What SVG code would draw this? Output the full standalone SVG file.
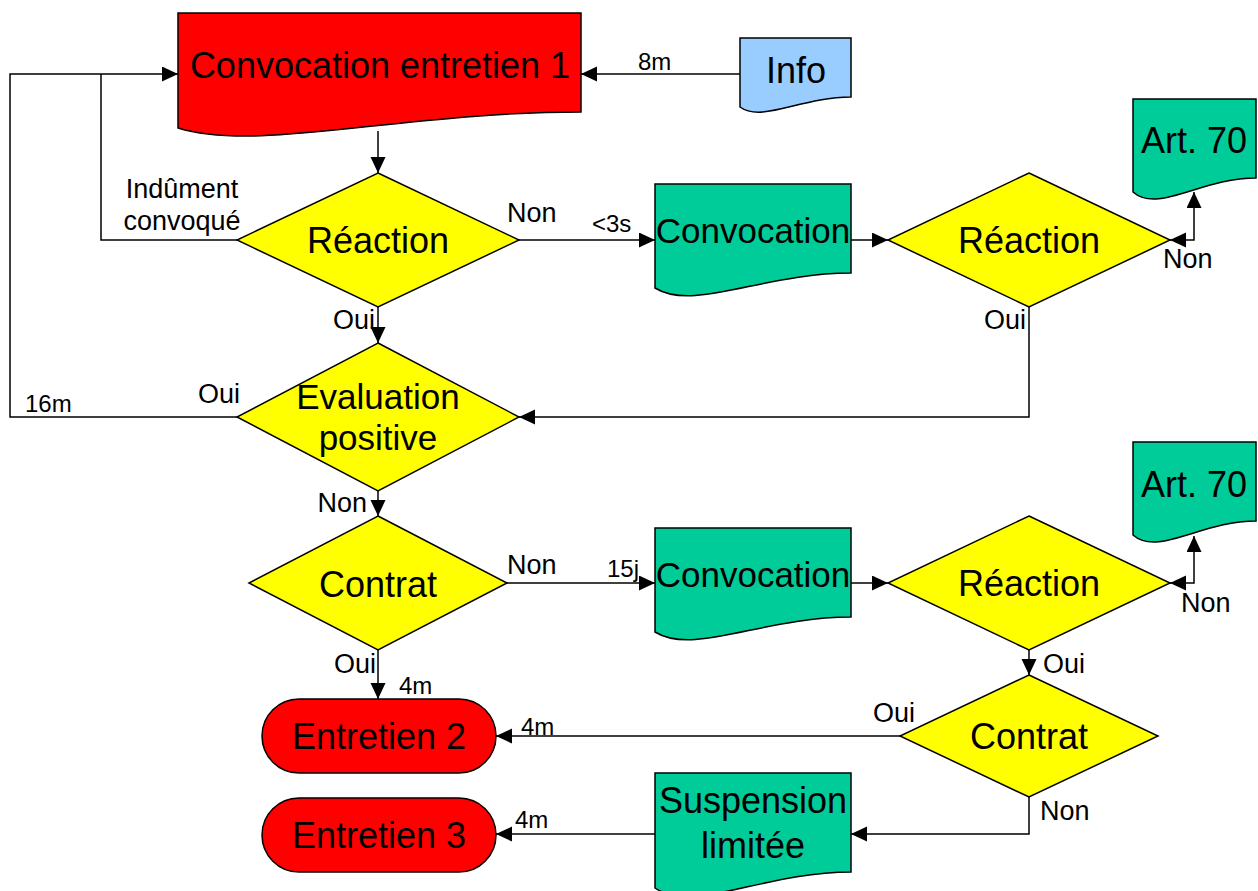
<svg xmlns="http://www.w3.org/2000/svg" width="1258" height="891" viewBox="0 0 1258 891">
<style>
text{font-family:"Liberation Sans",Arial,sans-serif;fill:#000}
.big{font-size:36px;text-anchor:middle}
.mid{font-size:35px;text-anchor:middle}
.lab{font-size:27px}
.sm{font-size:24px}
.red{fill:#FF0000;stroke:#000;stroke-width:1.5}
.blue{fill:#99CCFF;stroke:#000;stroke-width:1.5}
.green{fill:#00CC99;stroke:#000;stroke-width:1.5}
.yel{fill:#FFFF00;stroke:#000;stroke-width:1.5}
.c{fill:none;stroke:#000;stroke-width:1.5}
.a{marker-end:url(#ah)}
.b{marker-start:url(#ah);marker-end:url(#ah)}
</style>
<defs>
<marker id="ah" markerUnits="userSpaceOnUse" markerWidth="17" markerHeight="16" refX="16" refY="7.5" orient="auto-start-reverse">
<path d="M0,0 L16,7.5 L0,15 Z" fill="#000"/>
</marker>
</defs>
<rect width="1258" height="891" fill="#fff"/>
<g id="connectors">
<path class="c a" d="M740,74 H581"/>
<path class="c a" d="M378,131 V173"/>
<path class="c" d="M237,240 H101 V74"/>
<path class="c a" d="M237,417 H10 V74 H178"/>
<path class="c a" d="M519,240 H655"/>
<path class="c a" d="M851,240 H888"/>
<path class="c b" d="M1170,240 H1194 V192"/>
<path class="c a" d="M1029,307 V417 H519"/>
<path class="c a" d="M378,307 V343"/>
<path class="c a" d="M378,491 V516"/>
<path class="c a" d="M507,583 H655"/>
<path class="c a" d="M851,583 H888"/>
<path class="c b" d="M1170,583 H1194 V536"/>
<path class="c a" d="M1029,650 V675"/>
<path class="c a" d="M378,650 V699"/>
<path class="c a" d="M900,736 H496"/>
<path class="c a" d="M1029,797 V834 H851"/>
<path class="c a" d="M655,834 H496"/>
<text class="sm" x="638" y="70">8m</text>
<text class="lab" x="182" y="198" text-anchor="middle">Indûment</text>
<text class="lab" x="182" y="230" text-anchor="middle">convoqué</text>
<text class="lab" x="507" y="222">Non</text>
<text class="sm" x="592" y="232">&lt;3s</text>
<text class="lab" x="1163" y="268">Non</text>
<text class="lab" x="375" y="329" text-anchor="end">Oui</text>
<text class="lab" x="1026" y="329" text-anchor="end">Oui</text>
<text class="lab" x="240" y="403" text-anchor="end">Oui</text>
<text class="sm" x="25" y="412">16m</text>
<text class="lab" x="367" y="512" text-anchor="end">Non</text>
<text class="lab" x="507" y="574">Non</text>
<text class="sm" x="607" y="577">15j</text>
<text class="lab" x="1181" y="612">Non</text>
<text class="lab" x="1043" y="673">Oui</text>
<text class="lab" x="376" y="673" text-anchor="end">Oui</text>
<text class="sm" x="399" y="694">4m</text>
<text class="lab" x="915" y="722" text-anchor="end">Oui</text>
<text class="sm" x="521" y="735">4m</text>
<text class="lab" x="1040" y="820">Non</text>
<text class="sm" x="515" y="828">4m</text>
</g>
<g id="conv1">
<path class="red" d="M178,13 H581 V112 C400,112 259,153 178,128 Z"/>
<text class="big" x="380" y="78">Convocation entretien 1</text>
</g>
<g id="info">
<path class="blue" d="M740,38 H851 V97 C801,97 762,123 740,107 Z"/>
<text class="big" x="796" y="83">Info</text>
</g>
<g id="reaction1">
<polygon class="yel" points="378,173 519,240 378,307 237,240"/>
<text class="big" x="378" y="253">Réaction</text>
</g>
<g id="convocation1">
<path class="green" d="M655,184 H851 V273 C763,273 694,312 655,288 Z"/>
<text class="mid" x="753" y="243">Convocation</text>
</g>
<g id="reaction2">
<polygon class="yel" points="1029,173 1170,240 1029,307 888,240"/>
<text class="big" x="1029" y="253">Réaction</text>
</g>
<g id="art70a">
<path class="green" d="M1133,99 H1256 V178 C1201,178 1158,214 1133,192 Z"/>
<text class="big" x="1194" y="153">Art. 70</text>
</g>
<g id="evaluation">
<polygon class="yel" points="378,343 519,417 378,491 237,417"/>
<text class="mid" x="378" y="409">Evaluation</text>
<text class="mid" x="378" y="450">positive</text>
</g>
<g id="contrat1">
<polygon class="yel" points="378,516 507,583 378,650 249,583"/>
<text class="big" x="378" y="597">Contrat</text>
</g>
<g id="convocation2">
<path class="green" d="M655,528 H851 V617 C763,617 694,656 655,632 Z"/>
<text class="mid" x="753" y="587">Convocation</text>
</g>
<g id="reaction3">
<polygon class="yel" points="1029,516 1170,583 1029,650 888,583"/>
<text class="big" x="1029" y="596">Réaction</text>
</g>
<g id="art70b">
<path class="green" d="M1133,442 H1256 V521 C1201,521 1158,557 1133,535 Z"/>
<text class="big" x="1194" y="497">Art. 70</text>
</g>
<g id="contrat2">
<polygon class="yel" points="1029,675 1158,736 1029,797 900,736"/>
<text class="big" x="1029" y="749">Contrat</text>
</g>
<g id="entretien2">
<rect class="red" x="262" y="699" width="234" height="74" rx="37"/>
<text class="big" x="379" y="749">Entretien 2</text>
</g>
<g id="entretien3">
<rect class="red" x="262" y="798" width="234" height="74" rx="37"/>
<text class="big" x="379" y="848">Entretien 3</text>
</g>
<g id="suspension">
<path class="green" d="M655,773 H851 V872 C763,872 694,914 655,888 Z"/>
<text class="big" x="753" y="813">Suspension</text>
<text class="big" x="753" y="858">limitée</text>
</g>
</svg>
